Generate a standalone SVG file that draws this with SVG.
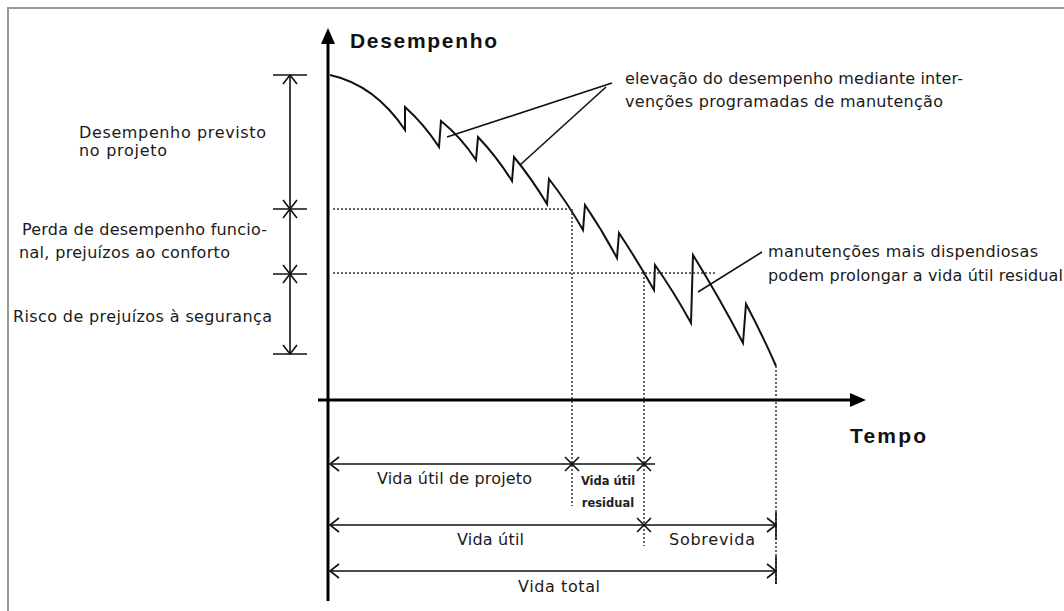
<svg xmlns="http://www.w3.org/2000/svg" width="1064" height="611" viewBox="0 0 1064 611">
<style>
.t{font-family:"DejaVu Sans","Liberation Sans",sans-serif;font-size:16px;fill:#1a1a1a}
.s{font-family:"DejaVu Sans","Liberation Sans",sans-serif;font-size:11.5px;fill:#222;font-weight:bold}
.b{font-family:"Liberation Sans","DejaVu Sans",sans-serif;font-size:21px;font-weight:bold;fill:#111}
.ln{stroke:#111;stroke-width:1.6;fill:none}
.ax{stroke:#000;stroke-width:3;fill:none}
.dot{stroke:#333;stroke-width:1.5;stroke-dasharray:2 2;fill:none}
.crv{stroke:#111;stroke-width:2;fill:none;stroke-linejoin:miter}
</style>
<rect width="1064" height="611" fill="#fff"/>
<path d="M8,611 V8 H1064" stroke="#999" stroke-width="2" fill="none"/>

<g id="axes">
<line class="ax" x1="328" y1="42" x2="328" y2="601"/>
<polygon points="328,28 321,44 335,44" fill="#000"/>
<line class="ax" x1="318" y1="400" x2="852" y2="400"/>
<polygon points="866,400 850,393 850,407" fill="#000"/>
<text class="b" x="350" y="48" textLength="147">Desempenho</text>
<text class="b" x="850" y="443" textLength="76">Tempo</text>
</g>

<g id="curve">
<path class="crv" d="M330,75 Q375,85 405,130 L405,107 Q424,124 439,147 L441,121 Q461,137 476,160 L478,137 Q497,157 512,181 L514,157 Q532,179 547,204 L549,179 Q567,202 583,230 L585,205 Q602,230 617,258 L619,233 Q637,260 654,290 L655,265 Q674,292 691,323 L693,255 Q719,297 743,343 L746,304 Q762,334 776,366"/>
</g>

<g id="connectors">
<line class="dot" x1="333" y1="209" x2="571" y2="209"/>
<line class="dot" x1="333" y1="273" x2="715" y2="273"/>
<line class="dot" x1="572" y1="209" x2="572" y2="506"/>
<line class="dot" x1="644" y1="273" x2="644" y2="546"/>
<line class="dot" x1="776" y1="366" x2="776" y2="586"/>
<line class="ln" x1="612" y1="83" x2="447" y2="137"/>
<line class="ln" x1="606" y1="87" x2="520" y2="165"/>
<line class="ln" x1="762" y1="252" x2="698" y2="292"/>
</g>

<g id="dim-left">
<line class="ln" x1="290" y1="75" x2="290" y2="354"/>
<line class="ln" x1="273" y1="75" x2="307" y2="75"/>
<path class="ln" d="M283,84 L290,75 L297,84"/>
<line class="ln" x1="273" y1="209" x2="307" y2="209"/>
<path class="ln" d="M283,200 L297,218 M297,200 L283,218"/>
<line class="ln" x1="273" y1="274" x2="307" y2="274"/>
<path class="ln" d="M283,265 L297,283 M297,265 L283,283"/>
<line class="ln" x1="273" y1="354" x2="307" y2="354"/>
<path class="ln" d="M283,345 L290,354 L297,345"/>
</g>

<g id="dim-bottom">
<line class="ln" x1="330" y1="464" x2="655" y2="464"/>
<path class="ln" d="M339,457 L330,464 L339,471"/>
<path class="ln" d="M565,457 L579,471 M579,457 L565,471 M637,457 L651,471 M651,457 L637,471"/>
<line class="ln" x1="330" y1="525" x2="776" y2="525"/>
<path class="ln" d="M339,518 L330,525 L339,532"/>
<path class="ln" d="M637,518 L651,532 M651,518 L637,532"/>
<path class="ln" d="M767,518 L776,525 L767,532"/>
<line class="ln" x1="776" y1="512" x2="776" y2="540"/>
<line class="ln" x1="330" y1="571" x2="776" y2="571"/>
<path class="ln" d="M339,564 L330,571 L339,578"/>
<path class="ln" d="M767,564 L776,571 L767,578"/>
<line class="ln" x1="776" y1="556" x2="776" y2="584"/>
</g>

<g id="labels-left">
<text class="t" x="79" y="138" textLength="187">Desempenho previsto</text>
<text class="t" x="79" y="156" textLength="88">no projeto</text>
<text class="t" x="22" y="235" textLength="245">Perda de desempenho funcio-</text>
<text class="t" x="19" y="258" textLength="211">nal, prejuízos ao conforto</text>
<text class="t" x="13" y="322" textLength="259">Risco de prejuízos à segurança</text>
</g>

<g id="labels-right">
<text class="t" x="625" y="84" textLength="338">elevação do desempenho mediante inter-</text>
<text class="t" x="625" y="107" textLength="318">venções programadas de manutenção</text>
<text class="t" x="768" y="257" textLength="270">manutenções mais dispendiosas</text>
<text class="t" x="768" y="281" textLength="295">podem prolongar a vida útil residual</text>
</g>

<g id="labels-bottom">
<text class="t" x="377" y="484" textLength="155">Vida útil de projeto</text>
<text class="s" x="608" y="485" text-anchor="middle">Vida útil</text>
<text class="s" x="608" y="507" text-anchor="middle">residual</text>
<text class="t" x="457" y="545" textLength="67">Vida útil</text>
<text class="t" x="669" y="545" textLength="86">Sobrevida</text>
<text class="t" x="518" y="592" textLength="82">Vida total</text>
</g>
</svg>
